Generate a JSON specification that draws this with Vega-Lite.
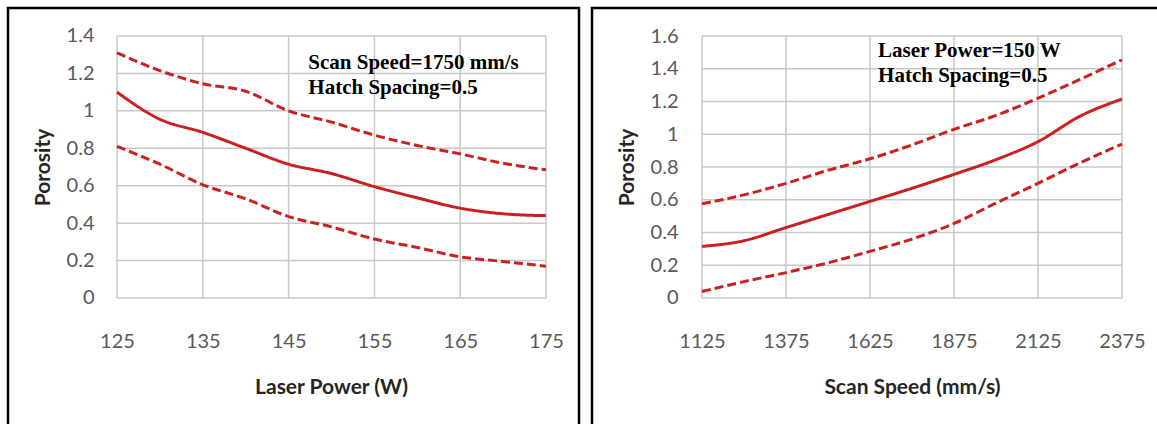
{
  "$schema": "https://vega.github.io/schema/vega-lite/v6.json",
  "padding": {"left": 6, "top": 6, "right": 0, "bottom": 0},
  "background": "white",
  "spacing": 9,
  "config": {
    "view": {"stroke": "#000000", "strokeWidth": 2.5, "fill": "white"},
    "axis": {
      "domain": false, "ticks": false, "grid": false,
      "labelFont": "Lato", "labelFontSize": 20, "labelColor": "#595959",
      "titleFont": "Lato", "titleFontSize": 21, "titleFontWeight": "bold", "titleColor": "#262626",
      "labelOverlap": false, "labelFlush": false
    }
  },
  "datasets": {
    "leftLines": [
      {"x": 125, "series": "upper", "y": 1.31}, {"x": 130, "series": "upper", "y": 1.215}, {"x": 135, "series": "upper", "y": 1.145}, {"x": 140, "series": "upper", "y": 1.105}, {"x": 145, "series": "upper", "y": 1.0}, {"x": 150, "series": "upper", "y": 0.94}, {"x": 155, "series": "upper", "y": 0.87}, {"x": 160, "series": "upper", "y": 0.815}, {"x": 165, "series": "upper", "y": 0.77}, {"x": 170, "series": "upper", "y": 0.72}, {"x": 175, "series": "upper", "y": 0.685},
      {"x": 125, "series": "mean", "y": 1.1}, {"x": 130, "series": "mean", "y": 0.955}, {"x": 135, "series": "mean", "y": 0.885}, {"x": 140, "series": "mean", "y": 0.8}, {"x": 145, "series": "mean", "y": 0.715}, {"x": 150, "series": "mean", "y": 0.665}, {"x": 155, "series": "mean", "y": 0.595}, {"x": 160, "series": "mean", "y": 0.535}, {"x": 165, "series": "mean", "y": 0.48}, {"x": 170, "series": "mean", "y": 0.45}, {"x": 175, "series": "mean", "y": 0.44},
      {"x": 125, "series": "lower", "y": 0.81}, {"x": 130, "series": "lower", "y": 0.715}, {"x": 135, "series": "lower", "y": 0.605}, {"x": 140, "series": "lower", "y": 0.53}, {"x": 145, "series": "lower", "y": 0.435}, {"x": 150, "series": "lower", "y": 0.38}, {"x": 155, "series": "lower", "y": 0.315}, {"x": 160, "series": "lower", "y": 0.27}, {"x": 165, "series": "lower", "y": 0.22}, {"x": 170, "series": "lower", "y": 0.195}, {"x": 175, "series": "lower", "y": 0.17}
    ],
    "rightLines": [
      {"x": 1125, "series": "upper", "y": 0.575}, {"x": 1250, "series": "upper", "y": 0.63}, {"x": 1375, "series": "upper", "y": 0.7}, {"x": 1500, "series": "upper", "y": 0.78}, {"x": 1625, "series": "upper", "y": 0.85}, {"x": 1750, "series": "upper", "y": 0.935}, {"x": 1875, "series": "upper", "y": 1.03}, {"x": 2000, "series": "upper", "y": 1.115}, {"x": 2125, "series": "upper", "y": 1.22}, {"x": 2250, "series": "upper", "y": 1.335}, {"x": 2375, "series": "upper", "y": 1.455},
      {"x": 1125, "series": "mean", "y": 0.315}, {"x": 1250, "series": "mean", "y": 0.35}, {"x": 1375, "series": "mean", "y": 0.43}, {"x": 1500, "series": "mean", "y": 0.51}, {"x": 1625, "series": "mean", "y": 0.59}, {"x": 1750, "series": "mean", "y": 0.67}, {"x": 1875, "series": "mean", "y": 0.755}, {"x": 2000, "series": "mean", "y": 0.845}, {"x": 2125, "series": "mean", "y": 0.955}, {"x": 2250, "series": "mean", "y": 1.11}, {"x": 2375, "series": "mean", "y": 1.215},
      {"x": 1125, "series": "lower", "y": 0.04}, {"x": 1250, "series": "lower", "y": 0.1}, {"x": 1375, "series": "lower", "y": 0.155}, {"x": 1500, "series": "lower", "y": 0.215}, {"x": 1625, "series": "lower", "y": 0.285}, {"x": 1750, "series": "lower", "y": 0.36}, {"x": 1875, "series": "lower", "y": 0.455}, {"x": 2000, "series": "lower", "y": 0.58}, {"x": 2125, "series": "lower", "y": 0.7}, {"x": 2250, "series": "lower", "y": 0.825}, {"x": 2375, "series": "lower", "y": 0.94}
    ],
    "leftGridV": [
      {"x": 125, "y": 0, "y2": 1.4}, {"x": 135, "y": 0, "y2": 1.4}, {"x": 145, "y": 0, "y2": 1.4}, {"x": 155, "y": 0, "y2": 1.4}, {"x": 165, "y": 0, "y2": 1.4}, {"x": 175, "y": 0, "y2": 1.4}
    ],
    "leftGridH": [
      {"y": 0, "x": 125, "x2": 175}, {"y": 0.2, "x": 125, "x2": 175}, {"y": 0.4, "x": 125, "x2": 175}, {"y": 0.6, "x": 125, "x2": 175}, {"y": 0.8, "x": 125, "x2": 175}, {"y": 1.0, "x": 125, "x2": 175}, {"y": 1.2, "x": 125, "x2": 175}, {"y": 1.4, "x": 125, "x2": 175}
    ],
    "rightGridV": [
      {"x": 1125, "y": 0, "y2": 1.6}, {"x": 1375, "y": 0, "y2": 1.6}, {"x": 1625, "y": 0, "y2": 1.6}, {"x": 1875, "y": 0, "y2": 1.6}, {"x": 2125, "y": 0, "y2": 1.6}, {"x": 2375, "y": 0, "y2": 1.6}
    ],
    "rightGridH": [
      {"y": 0, "x": 1125, "x2": 2375}, {"y": 0.2, "x": 1125, "x2": 2375}, {"y": 0.4, "x": 1125, "x2": 2375}, {"y": 0.6, "x": 1125, "x2": 2375}, {"y": 0.8, "x": 1125, "x2": 2375}, {"y": 1.0, "x": 1125, "x2": 2375}, {"y": 1.2, "x": 1125, "x2": 2375}, {"y": 1.4, "x": 1125, "x2": 2375}, {"y": 1.6, "x": 1125, "x2": 2375}
    ],
    "leftNotes": [
      {"x": 147.3, "y": 1.224, "text": "Scan Speed=1750 mm/s"},
      {"x": 147.3, "y": 1.09, "text": "Hatch Spacing=0.5"}
    ],
    "rightNotes": [
      {"x": 1649, "y": 1.469, "text": "Laser Power=150 W"},
      {"x": 1649, "y": 1.322, "text": "Hatch Spacing=0.5"}
    ]
  },
  "hconcat": [
    {
      "width": 571,
      "height": 420,
      "encoding": {
        "x": {"field": "x", "type": "quantitative",
          "scale": {"domain": [112.296, 178.846], "nice": false, "zero": false},
          "axis": {"values": [125, 135, 145, 155, 165, 175], "format": "d", "offset": -130, "labelPadding": 33, "title": "Laser Power (W)", "titlePadding": 25, "titleX": 323}},
        "y": {"field": "y", "type": "quantitative",
          "scale": {"domain": [-0.6947, 1.5496], "nice": false, "zero": false},
          "axis": {"values": [0, 0.2, 0.4, 0.6, 0.8, 1, 1.2, 1.4], "format": "~g", "offset": -109, "labelPadding": 23, "title": "Porosity", "titlePadding": 13, "titleY": 159}}
      },
      "layer": [
        {"data": {"name": "leftGridV"}, "mark": {"type": "rule", "color": "#c8c8c8", "strokeWidth": 1.5}, "encoding": {"y2": {"field": "y2"}}},
        {"data": {"name": "leftGridH"}, "mark": {"type": "rule", "color": "#c8c8c8", "strokeWidth": 1.5}, "encoding": {"x2": {"field": "x2"}}},
        {"data": {"name": "leftLines"}, "mark": {"type": "line", "color": "#cc1f1f", "strokeWidth": 3, "interpolate": "monotone"},
          "encoding": {"strokeDash": {"field": "series", "type": "nominal", "scale": {"domain": ["lower", "mean", "upper"], "range": [[9, 4], [1, 0], [9, 4]]}, "legend": null}}},
        {"data": {"name": "leftNotes"}, "mark": {"type": "text", "font": "Liberation Serif", "fontWeight": "bold", "fontSize": 21, "align": "left", "baseline": "alphabetic", "color": "#000000"},
          "encoding": {"text": {"field": "text"}}}
      ]
    },
    {
      "width": 575,
      "height": 420,
      "encoding": {
        "x": {"field": "x", "type": "quantitative",
          "scale": {"domain": [797.62, 2508.93], "nice": false, "zero": false},
          "axis": {"values": [1125, 1375, 1625, 1875, 2125, 2375], "format": "d", "offset": -130, "labelPadding": 33, "title": "Scan Speed (mm/s)", "titlePadding": 25, "titleX": 320}},
        "y": {"field": "y", "type": "quantitative",
          "scale": {"domain": [-0.7939, 1.771], "nice": false, "zero": false},
          "axis": {"values": [0, 0.2, 0.4, 0.6, 0.8, 1, 1.2, 1.4, 1.6], "format": "~g", "offset": -110, "labelPadding": 24, "title": "Porosity", "titlePadding": 13, "titleY": 159}}
      },
      "layer": [
        {"data": {"name": "rightGridV"}, "mark": {"type": "rule", "color": "#c8c8c8", "strokeWidth": 1.5}, "encoding": {"y2": {"field": "y2"}}},
        {"data": {"name": "rightGridH"}, "mark": {"type": "rule", "color": "#c8c8c8", "strokeWidth": 1.5}, "encoding": {"x2": {"field": "x2"}}},
        {"data": {"name": "rightLines"}, "mark": {"type": "line", "color": "#cc1f1f", "strokeWidth": 3, "interpolate": "monotone"},
          "encoding": {"strokeDash": {"field": "series", "type": "nominal", "scale": {"domain": ["lower", "mean", "upper"], "range": [[9, 4], [1, 0], [9, 4]]}, "legend": null}}},
        {"data": {"name": "rightNotes"}, "mark": {"type": "text", "font": "Liberation Serif", "fontWeight": "bold", "fontSize": 21, "align": "left", "baseline": "alphabetic", "color": "#000000"},
          "encoding": {"text": {"field": "text"}}}
      ]
    }
  ]
}
